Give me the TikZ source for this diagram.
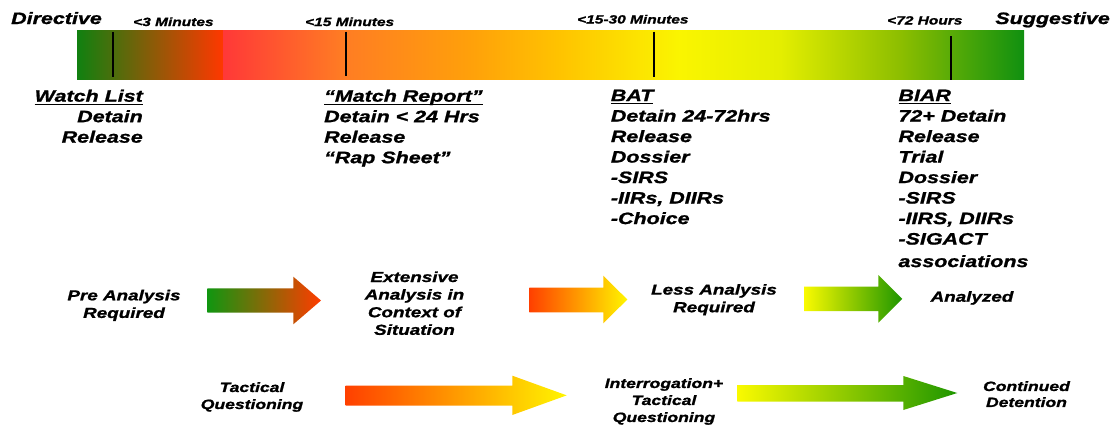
\documentclass[tikz,border=0pt]{standalone}
\usepackage{fontspec}
\setmainfont{Liberation Sans}[FakeStretch=1.3, BoldItalicFeatures={FakeBold=1.2}]
\definecolor{g0}{RGB}{16,128,16}
\definecolor{br}{RGB}{140,100,0}
\definecolor{rr}{RGB}{255,56,0}
\definecolor{s1}{RGB}{255,56,56}
\definecolor{s2}{RGB}{255,125,35}
\definecolor{s3}{RGB}{255,160,10}
\definecolor{s4}{RGB}{255,195,0}
\definecolor{s5}{RGB}{250,245,0}
\definecolor{s6}{RGB}{228,238,0}
\definecolor{s7}{RGB}{140,190,0}
\definecolor{s8}{RGB}{16,144,16}
\definecolor{a1l}{RGB}{16,150,16}
\definecolor{a1m}{RGB}{170,110,0}
\definecolor{a1r}{RGB}{255,60,0}
\definecolor{a2l}{RGB}{255,64,0}
\definecolor{a2m}{RGB}{255,170,0}
\definecolor{a2r}{RGB}{255,245,0}
\definecolor{a3l}{RGB}{250,250,0}
\definecolor{a3m}{RGB}{195,218,0}
\definecolor{a3r}{RGB}{30,150,0}
\pgfdeclarehorizontalshading{barshade}{100bp}{color(0bp)=(s1); color(25bp)=(s1); color(32.6bp)=(s2); color(40.4bp)=(s3); color(46bp)=(s4); color(53.5bp)=(s5); color(59.8bp)=(s6); color(67.3bp)=(s7); color(75bp)=(s8); color(100bp)=(s8)}
\newcommand\ulx[1]{\setbox0=\hbox{#1}\rlap{\rule[-3.2pt]{\wd0}{1.3pt}}\box0}
% #1 style, #2 x start, #3 x head, #4 x tip, #5 body top, #6 body bottom, #7 head top, #8 head bottom
\newcommand\blockarrow[8]{\shade[#1] (#2,#5) -- (#3,#5) -- (#3,#7) -- (#4,{(#7+#8)/2}) -- (#3,#8) -- (#3,#6) -- (#2,#6) -- cycle;}
\tikzset{
  big/.style={inner sep=0pt, font=\fontsize{16.5}{20.5}\selectfont\bfseries\itshape},
  small/.style={inner sep=0pt, font=\fontsize{11.9}{14}\selectfont\bfseries\itshape},
  mid/.style={inner sep=0pt, align=center, font=\fontsize{14.5}{17.6}\selectfont\bfseries\itshape},
  low/.style={inner sep=0pt, align=center, font=\fontsize{13.5}{17}\selectfont\bfseries\itshape},
  tickline/.style={line width=1.8pt, black},
  gr2red/.style={left color=a1l, middle color=a1m, right color=a1r},
  red2yel/.style={left color=a2l, middle color=a2m, right color=a2r},
  yel2gr/.style={left color=a3l, middle color=a3m, right color=a3r}
}
\begin{document}
\begin{tikzpicture}[x=1pt,y=-1pt]
\useasboundingbox (0,0) rectangle (1114,426);
% scale bar
\shade[left color=g0, middle color=br, right color=rr] (77,30) rectangle (223,79.5);
\shade[shading=barshade] (223,30.8) rectangle (1024,79.5);
\draw[tickline] (113.3,32.3) -- (113.3,77.3);
\draw[tickline] (345.7,31.7) -- (345.7,76);
\draw[tickline] (654.3,31.5) -- (654.3,77);
\draw[tickline] (951,36) -- (951,80);
% top labels
\node[big, anchor=base west] (directive) at (11,24) {Directive};
\node[big, anchor=base east] (suggestive) at (1110,24) {Suggestive};
\node[small, anchor=base west] (t3) at (133,26) {<3 Minutes};
\node[small, anchor=base west] (t15) at (305,26) {<15 Minutes};
\node[small, anchor=base west] (t1530) at (577,23.5) {<15-30 Minutes};
\node[small, anchor=base west] (t72) at (887,24.5) {<72 Hours};
% blocks
\node[big, align=right, anchor=north east] (watch) at (143,89.5) {\ulx{Watch List}\\Detain\\Release};
\node[big, align=left, anchor=north west] (match) at (324,89.5) {\ulx{“Match Report”}\\Detain < 24 Hrs\\Release\\“Rap Sheet”};
\node[big, align=left, anchor=north west] (bat) at (610.7,89.5) {\ulx{BAT}\\Detain 24-72hrs\\Release\\Dossier\\-SIRS\\-IIRs, DIIRs\\-Choice};
\node[big, align=left, anchor=north west] (biar) at (898.3,89.5) {\ulx{BIAR}\\72+ Detain\\Release\\Trial\\Dossier\\-SIRS\\-IIRS, DIIRs\\-SIGACT\\[2pt]associations};
% middle row
\node[mid, anchor=north] (pre) at (124,289.6) {Pre Analysis\\Required};
\node[mid, anchor=north] (ext) at (414.5,271.3) {Extensive\\Analysis in\\Context of\\Situation};
\node[mid, anchor=north] (less) at (714,283.9) {Less Analysis\\Required};
\node[mid, anchor=base] (anl) at (972,301.7) {Analyzed};
\blockarrow{gr2red}{207.3}{293.3}{321}{288.3}{312.7}{276.7}{324.3}
\blockarrow{red2yel}{529.3}{603.3}{627.3}{287.7}{312.3}{275.7}{323.3}
\blockarrow{yel2gr}{804}{878.3}{902.3}{286.7}{311}{275}{322.7}
% bottom row
\node[low, anchor=north] (tq) at (252,382) {Tactical\\Questioning};
\node[low, anchor=north] (itq) at (664,378) {Interrogation+\\Tactical\\Questioning};
\node[low, anchor=north, font=\fontsize{13.5}{16}\selectfont\bfseries\itshape] (cd) at (1026.5,381) {Continued\\Detention};
\blockarrow{red2yel}{345.7}{512.3}{566.7}{385.7}{405.7}{375.7}{415}
\blockarrow{yel2gr}{737.3}{903.3}{957.3}{385}{401.7}{376}{410}
\end{tikzpicture}
\end{document}
